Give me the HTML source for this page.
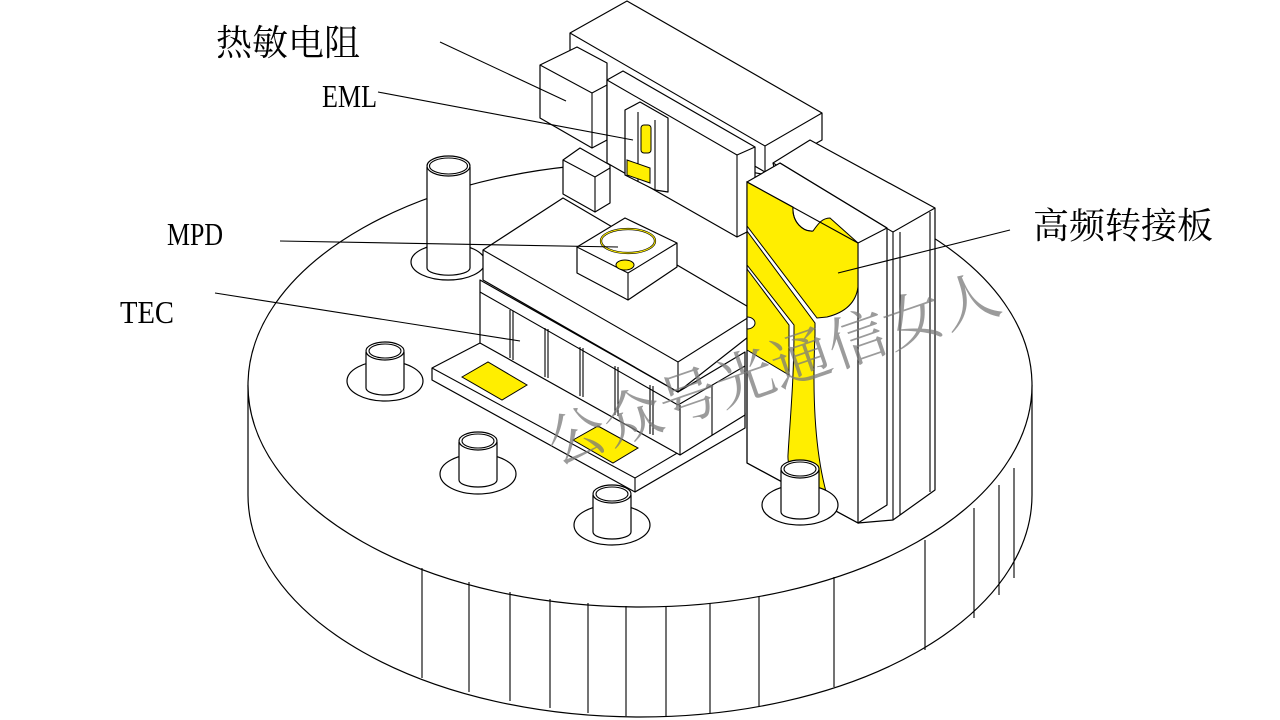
<!DOCTYPE html>
<html><head><meta charset="utf-8"><style>
html,body{margin:0;padding:0;background:#fff;}
svg{display:block;}
.l{fill:#fff;stroke:#000;stroke-width:1.2;stroke-linejoin:round;}
.n{fill:none;stroke:#000;stroke-width:1.1;}
.y{fill:#ffee00;stroke:#000;stroke-width:1;}
.t{font-family:"Liberation Serif","Noto Serif CJK SC",serif;fill:#000;}
</style></head><body>
<svg width="1280" height="720" viewBox="0 0 1280 720" xmlns="http://www.w3.org/2000/svg">
<!-- base cylinder -->
<path class="l" d="M248,385 L248,495 A392,222 0 0 0 1032,495 L1032,385 Z"/>
<ellipse class="l" cx="640" cy="385" rx="392" ry="222"/>
<g class="n">
<line x1="422" y1="568" x2="422" y2="678"/>
<line x1="469" y1="582" x2="469" y2="692"/>
<line x1="510" y1="592" x2="510" y2="701"/>
<line x1="550" y1="599" x2="550" y2="708"/>
<line x1="588" y1="603" x2="588" y2="713"/>
<line x1="626" y1="606" x2="626" y2="716"/>
<line x1="666" y1="606" x2="666" y2="716"/>
<line x1="710" y1="603" x2="710" y2="713"/>
<line x1="759" y1="596" x2="759" y2="706"/>
<line x1="834" y1="577" x2="834" y2="687"/>
<line x1="925" y1="540" x2="925" y2="650"/>
<line x1="974" y1="508" x2="974" y2="618"/>
<line x1="999" y1="485" x2="999" y2="595"/>
<line x1="1014" y1="468" x2="1014" y2="578"/>
</g>

<!-- big back box -->
<polygon class="l" points="570,33 627,1 822,113 822,140 765,172 570,60"/>
<polyline class="n" points="570,33 765,146 822,113"/>
<line class="n" x1="765" y1="146" x2="765" y2="172"/>
<!-- thermistor box -->
<polygon class="l" points="540,65 577,47 607,63 607,140 592,148 540,118"/>
<polyline class="n" points="540,65 592,93 607,85"/>
<line class="n" x1="592" y1="93" x2="592" y2="148"/>
<!-- EML carrier -->
<polygon class="l" points="607,80 623,71 755,147 755,228 737,237 607,163"/>
<polyline class="n" points="607,80 737,155 755,147"/>
<line class="n" x1="737" y1="155" x2="737" y2="237"/>
<!-- EML chip -->
<polygon class="l" points="625,110 640,102 668,118 668,192 655,190 625,175"/>
<line class="n" x1="638" y1="112" x2="638" y2="182"/>
<line class="n" x1="655" y1="120" x2="655" y2="190"/>
<rect class="y" x="641" y="125" width="10" height="28" rx="3"/>
<polygon class="y" points="627,160 650,168 650,183 627,175"/>
<!-- small box -->
<polygon class="l" points="563,160 580,148 610,165 610,203 595,212 563,194"/>
<polyline class="n" points="563,160 595,177 610,168"/>
<line class="n" x1="595" y1="177" x2="595" y2="212"/>

<!-- big pillar -->
<ellipse class="l" cx="448" cy="262" rx="37" ry="18"/>
<path class="l" d="M427,167 L427,268 A21,7 0 0 0 470,268 L470,167"/>
<ellipse class="l" cx="448.5" cy="166" rx="21.5" ry="10"/>
<ellipse class="n" cx="448.5" cy="166" rx="19" ry="8"/>

<!-- TEC base plate -->
<polygon class="l" points="432,368 480,343 745,413 745,428 635,492 432,380"/>
<polyline class="n" points="432,368 635,478 745,413"/>
<line class="n" x1="635" y1="478" x2="635" y2="492"/>
<polygon class="y" points="462,377 488,362 527,385 502,400"/>
<polygon class="y" points="573,440 598,426 638,448 613,463"/>
<!-- TEC legs body -->
<polygon class="l" points="480,280 678,392 745,352 745,415 680,455 480,343"/>
<g class="n">
<line x1="510" y1="310" x2="510" y2="358"/><line x1="513" y1="311" x2="513" y2="360"/>
<line x1="545" y1="328" x2="545" y2="377"/><line x1="548" y1="329" x2="548" y2="378"/>
<line x1="580" y1="347" x2="580" y2="396"/><line x1="583" y1="348" x2="583" y2="397"/>
<line x1="615" y1="366" x2="615" y2="415"/><line x1="618" y1="367" x2="618" y2="416"/>
<line x1="650" y1="385" x2="650" y2="434"/><line x1="653" y1="386" x2="653" y2="435"/>
<line x1="680" y1="405" x2="680" y2="455"/>
<line x1="712" y1="385" x2="712" y2="435"/>
<line x1="480" y1="292" x2="678" y2="405"/>
<line x1="678" y1="405" x2="745" y2="366"/>
</g>
<!-- TEC upper slab -->
<polygon class="l" points="483,250 563,198 757,312 757,330 678,392 483,280"/>
<polyline class="n" points="483,250 678,362 757,312"/>
<line class="n" x1="678" y1="362" x2="678" y2="392"/>
<!-- MPD -->
<polygon class="l" points="577,247 625,218 677,243 677,267 628,300 577,273"/>
<polyline class="n" points="577,247 628,273 677,243"/>
<line class="n" x1="628" y1="273" x2="628" y2="300"/>
<ellipse cx="628" cy="241" rx="27" ry="12" fill="none" stroke="#000" stroke-width="2.2"/>
<ellipse cx="628" cy="241" rx="27" ry="12" fill="none" stroke="#ffee00" stroke-width="1"/>
<ellipse class="y" cx="625" cy="265" rx="9" ry="5"/>

<!-- small pins -->
<g>
<ellipse class="l" cx="385" cy="381" rx="38" ry="20"/>
<path class="l" d="M366,352 L366,388 A19,7 0 0 0 404,388 L404,352"/>
<ellipse class="l" cx="385" cy="351" rx="19" ry="9"/>
<ellipse class="n" cx="385" cy="351" rx="16" ry="7"/>
</g>
<g>
<ellipse class="l" cx="478" cy="474" rx="38" ry="20"/>
<path class="l" d="M459,442 L459,480 A19,7 0 0 0 497,480 L497,442"/>
<ellipse class="l" cx="478" cy="441" rx="19" ry="9"/>
<ellipse class="n" cx="478" cy="441" rx="16" ry="7"/>
</g>
<g>
<ellipse class="l" cx="612" cy="525" rx="38" ry="20"/>
<path class="l" d="M593,495 L593,532 A19,7 0 0 0 631,532 L631,495"/>
<ellipse class="l" cx="612" cy="494" rx="19" ry="9"/>
<ellipse class="n" cx="612" cy="494" rx="16" ry="7"/>
</g>

<!-- right board: back rail -->
<polygon class="l" points="773,163 810,140 935,208 935,490 893,520 858,523"/>
<polyline class="n" points="773,163 893,232 935,208"/>
<line class="n" x1="893" y1="232" x2="893" y2="520"/>
<line class="n" x1="900" y1="232" x2="900" y2="515"/>
<line class="n" x1="930" y1="212" x2="930" y2="492"/>
<!-- front block -->
<polygon class="l" points="747,182 780,163 887,228 887,505 858,523 747,463"/>
<polyline class="n" points="780,163 887,228"/>
<line class="n" x1="858" y1="243" x2="887" y2="228"/>
<line class="n" x1="858" y1="243" x2="858" y2="523"/>
<!-- yellow on front face -->
<path class="y" d="M747,182 L793,207 C792,222 803,232 813,231 C818,224 822,218 830,218 L858,243 L858,287 Q855,310 827,317 L817,318 L747,226 Z"/>
<path class="y" d="M747,231 L815,323 L815,335 C812,400 815,460 830,505 L818,503 C800,490 787,470 788,455 C790,420 794,380 794,330 L794,325 L747,265 Z"/>
<path class="y" d="M747,269 L789,325 L789,375 L747,350 Z"/>
<path d="M747,317 A8,6 0 0 1 747,329" fill="#fff" stroke="#000" stroke-width="1"/>
<path class="n" d="M793,207 C792,222 803,232 813,231"/>
<path class="n" d="M747,182 L858,243 L858,523 L747,463 Z"/>
<!-- right pin -->
<g>
<ellipse class="l" cx="800" cy="505" rx="38" ry="20"/>
<path class="l" d="M781,470 L781,512 A19,7 0 0 0 819,512 L819,470"/>
<ellipse class="l" cx="800" cy="469" rx="19" ry="9"/>
<ellipse class="n" cx="800" cy="469" rx="16" ry="7"/>
</g>

<!-- leader lines -->
<g class="n">
<line x1="440" y1="42" x2="566" y2="101"/>
<line x1="378" y1="92" x2="633" y2="140"/>
<line x1="280" y1="241" x2="618" y2="247"/>
<line x1="215" y1="293" x2="520" y2="341"/>
<line x1="1010" y1="230" x2="838" y2="273"/>
</g>

<!-- labels -->
<text class="t" x="216" y="55" font-size="36">热敏电阻</text>
<text class="t" x="322" y="107" font-size="32" textLength="55" lengthAdjust="spacingAndGlyphs">EML</text>
<text class="t" x="167" y="245" font-size="32" textLength="56" lengthAdjust="spacingAndGlyphs">MPD</text>
<text class="t" x="120" y="323" font-size="32" textLength="54" lengthAdjust="spacingAndGlyphs">TEC</text>
<text class="t" x="1033" y="238" font-size="36">高频转接板</text>

<!-- watermark -->
<text x="555" y="465" font-size="58" fill="#7a7a7a" fill-opacity="0.75" font-family="'Noto Serif CJK SC','Liberation Serif',serif" transform="rotate(-19 555 465)" textLength="475" lengthAdjust="spacingAndGlyphs">公众号光通信女人</text>
</svg>
</body></html>
